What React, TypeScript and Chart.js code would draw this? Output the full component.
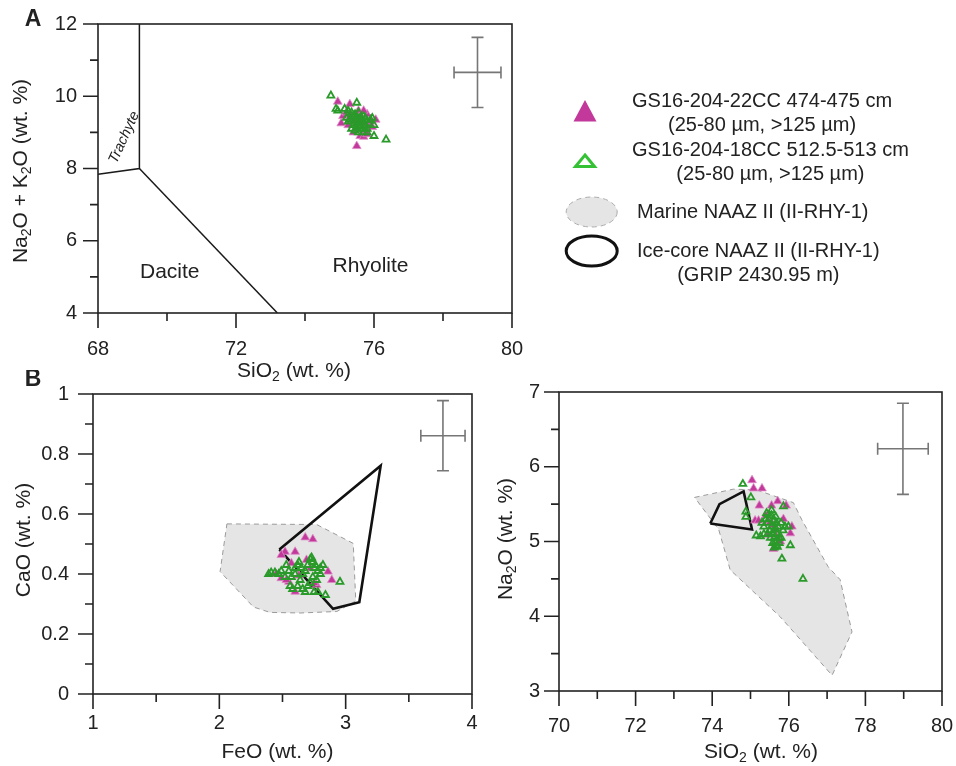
import React, { useEffect, useRef } from 'react';
import { Chart, registerables } from 'chart.js';
Chart.register(...registerables);

const FONT = '"Liberation Sans", Arial, Helvetica, sans-serif';
const INK = '#222222';
const PINK = '#c2399b';
const PINK_EDGE = '#de8ac6';
const GREEN = '#2a9a2a';
const LEG_GREEN = '#35c135';
const MARINE_FILL = '#e5e5e5';
const MARINE_EDGE = '#9a9a9a';

// ---------- Panel A : TAS ----------
const tasUpperSiO2 = [68, 69.2, 69.2];
const tasUpperAlk = [7.84, 8, 12];
const tasDiagSiO2 = [69.2, 73.2];
const tasDiagAlk = [8, 4];

const aPinkSiO2 = [74.95, 75.3, 75.55, 75.1, 75.05, 75.25, 75.35, 75.6, 75.8, 76.05, 75.95, 75.75, 75.6, 75.4, 75.5, 75.7, 75.85, 75.45, 75.65, 75.2, 75.5, 75.9, 75.3, 75.7, 75.8];
const aPinkAlk = [9.85, 9.78, 9.6, 9.45, 9.25, 9.2, 9.4, 9.45, 9.5, 9.35, 9.15, 9.05, 8.9, 9.0, 8.62, 8.88, 9.2, 9.3, 9.25, 9.55, 9.1, 9.3, 9.5, 9.6, 8.95];
const aGreenSiO2 = [74.75, 75.5, 74.9, 74.95, 75.15, 75.25, 75.35, 75.45, 75.55, 75.6, 75.4, 75.3, 75.45, 75.5, 75.55, 75.65, 75.7, 75.75, 75.6, 75.4, 75.35, 75.5, 75.65, 75.8, 75.85, 75.9, 76.0, 75.7, 75.8, 76.0, 76.35, 75.25, 75.5, 75.75, 75.6, 75.45, 75.55, 75.95, 75.2, 75.7];
const aGreenAlk = [10.02, 9.82, 9.65, 9.6, 9.65, 9.6, 9.55, 9.5, 9.55, 9.4, 9.45, 9.35, 9.35, 9.25, 9.3, 9.35, 9.3, 9.2, 9.15, 9.2, 9.1, 9.15, 9.1, 9.1, 9.25, 9.35, 9.2, 9.0, 9.0, 8.9, 8.8, 9.3, 9.4, 9.4, 9.25, 9.05, 9.0, 9.4, 9.4, 9.45];
const aErr = { x: 79, y: 10.66, dx: 0.68, dy: 0.97 };

// ---------- Panel B left : FeO vs CaO ----------
const blMarineFeO = [2.06, 2.77, 3.06, 3.08, 2.93, 2.64, 2.4, 2.27, 2.006];
const blMarineCaO = [0.567, 0.565, 0.502, 0.31, 0.275, 0.27, 0.272, 0.29, 0.408];
const blIceFeO = [2.475, 3.277, 3.108, 2.9];
const blIceCaO = [0.482, 0.761, 0.306, 0.284];
const blPinkFeO = [2.68, 2.74, 2.52, 2.6, 2.49, 2.69, 2.57, 2.86, 2.45, 2.89, 2.49, 2.6, 2.77, 2.55, 2.72, 2.63, 2.75, 2.53];
const blPinkCaO = [0.522, 0.516, 0.474, 0.474, 0.463, 0.447, 0.436, 0.408, 0.4, 0.38, 0.386, 0.341, 0.363, 0.374, 0.419, 0.395, 0.37, 0.38];
const blGreenFeO = [2.39, 2.41, 2.44, 2.49, 2.53, 2.55, 2.57, 2.56, 2.58, 2.6, 2.62, 2.63, 2.65, 2.66, 2.64, 2.62, 2.66, 2.68, 2.7, 2.7, 2.72, 2.73, 2.74, 2.75, 2.76, 2.78, 2.8, 2.82, 2.8, 2.77, 2.74, 2.72, 2.75, 2.78, 2.84, 2.955, 2.68, 2.6, 2.52, 2.47];
const blGreenCaO = [0.4, 0.405, 0.405, 0.41, 0.43, 0.41, 0.39, 0.36, 0.35, 0.42, 0.43, 0.44, 0.42, 0.4, 0.38, 0.36, 0.35, 0.34, 0.36, 0.43, 0.45, 0.455, 0.44, 0.42, 0.43, 0.41, 0.42, 0.43, 0.4, 0.38, 0.39, 0.37, 0.34, 0.34, 0.33, 0.374, 0.41, 0.4, 0.39, 0.4];
const blErr = { x: 3.77, y: 0.861, dx: 0.175, dy: 0.117 };

// ---------- Panel B right : SiO2 vs Na2O ----------
const brMarineSiO2 = [73.54, 74.55, 75.16, 76.12, 76.34, 77.03, 77.34, 77.65, 77.13, 75.78, 74.47, 74.17];
const brMarineNa2O = [5.59, 5.7, 5.69, 5.52, 5.29, 4.66, 4.49, 3.79, 3.21, 3.99, 4.62, 5.16];
const brIceSiO2 = [73.95, 74.19, 74.82, 75.04];
const brIceNa2O = [5.24, 5.5, 5.67, 5.16];
const brPinkSiO2 = [75.04, 75.08, 75.3, 75.23, 75.55, 75.71, 75.93, 75.12, 75.21, 75.86, 76.08, 76.04, 75.44, 75.6, 75.78, 75.5, 75.65, 75.7, 75.4, 75.62];
const brPinkNa2O = [5.82, 5.71, 5.71, 5.48, 5.48, 5.54, 5.48, 5.28, 5.28, 5.3, 5.2, 5.11, 5.09, 4.9, 5.0, 5.25, 5.15, 5.05, 5.35, 5.22];
const brGreenSiO2 = [74.8, 75.01, 74.88, 74.88, 76.37, 75.82, 76.04, 75.86, 75.99, 75.66, 75.15, 75.26, 75.35, 75.4, 75.45, 75.5, 75.55, 75.5, 75.55, 75.6, 75.6, 75.62, 75.65, 75.68, 75.7, 75.72, 75.75, 75.58, 75.62, 75.7, 75.8, 75.85, 75.9, 75.52, 75.45, 75.35, 75.3, 75.48, 75.55, 75.65, 75.75, 75.8, 75.42, 75.58, 75.68];
const brGreenNa2O = [5.77, 5.59, 5.4, 5.33, 4.5, 4.77, 4.95, 5.47, 5.2, 5.33, 5.08, 5.07, 5.2, 5.3, 5.25, 5.35, 5.42, 5.15, 5.2, 5.28, 5.1, 5.05, 5.0, 4.95, 5.1, 5.2, 5.05, 4.98, 4.92, 4.93, 5.05, 5.15, 5.2, 5.05, 5.1, 5.1, 5.25, 5.3, 5.35, 5.18, 4.98, 5.25, 5.38, 5.12, 5.25];
const brErr = { x: 78.98, y: 6.24, dx: 0.66, dy: 0.61 };

// ---------- helpers ----------
type P = { x: number; y: number };
const pts = (xs: number[], ys: number[]): P[] => xs.map((x, i) => ({ x, y: ys[i] }));
const closed = (xs: number[], ys: number[]): P[] => {
  const p = pts(xs, ys);
  return [...p, p[0]];
};

type Part = [string, boolean];
function drawRich(ctx: CanvasRenderingContext2D, parts: Part[], x: number, y: number, size: number, rot = 0) {
  const big = `${size}px ${FONT}`;
  const small = `${Math.round(size * 0.68)}px ${FONT}`;
  let total = 0;
  const widths = parts.map(([t, sub]) => {
    ctx.font = sub ? small : big;
    const w = ctx.measureText(t).width;
    total += w;
    return w;
  });
  ctx.save();
  ctx.translate(x, y);
  ctx.rotate(rot);
  ctx.fillStyle = INK;
  ctx.textBaseline = 'middle';
  ctx.textAlign = 'left';
  let cx = -total / 2;
  parts.forEach(([t, sub], i) => {
    ctx.font = sub ? small : big;
    ctx.fillText(t, cx, sub ? size * 0.3 : 0);
    cx += widths[i];
  });
  ctx.restore();
}

type Title = { parts: Part[]; x: number; y: number; rot?: number };
type Err = { x: number; y: number; dx: number; dy: number };

function decor(cfg: { err: Err; titles: Title[]; extra?: (chart: any) => void }) {
  return {
    id: 'decor',
    afterDatasetsDraw(chart: any) {
      const { ctx, chartArea: a, scales } = chart;
      const sx = scales.x;
      const sy = scales.y;
      ctx.save();
      ctx.strokeStyle = INK;
      ctx.lineWidth = 1.6;
      ctx.strokeRect(a.left, a.top, a.right - a.left, a.bottom - a.top);
      ctx.beginPath();
      for (const t of sx.ticks) {
        const px = sx.getPixelForValue(t.value);
        const L = t.label !== '' ? 15 : 8;
        ctx.moveTo(px, a.bottom);
        ctx.lineTo(px, a.bottom + L);
      }
      for (const t of sy.ticks) {
        const py = sy.getPixelForValue(t.value);
        const L = t.label !== '' ? 15 : 8;
        ctx.moveTo(a.left, py);
        ctx.lineTo(a.left - L, py);
      }
      ctx.stroke();
      // error bar
      const e = cfg.err;
      const cx = sx.getPixelForValue(e.x);
      const cy = sy.getPixelForValue(e.y);
      const x0 = sx.getPixelForValue(e.x - e.dx);
      const x1 = sx.getPixelForValue(e.x + e.dx);
      const y0 = sy.getPixelForValue(e.y + e.dy);
      const y1 = sy.getPixelForValue(e.y - e.dy);
      ctx.strokeStyle = '#767676';
      ctx.lineWidth = 1.6;
      ctx.beginPath();
      ctx.moveTo(x0, cy); ctx.lineTo(x1, cy);
      ctx.moveTo(cx, y0); ctx.lineTo(cx, y1);
      ctx.moveTo(x0, cy - 6); ctx.lineTo(x0, cy + 6);
      ctx.moveTo(x1, cy - 6); ctx.lineTo(x1, cy + 6);
      ctx.moveTo(cx - 6, y0); ctx.lineTo(cx + 6, y0);
      ctx.moveTo(cx - 6, y1); ctx.lineTo(cx + 6, y1);
      ctx.stroke();
      ctx.restore();
    },
    afterDraw(chart: any) {
      const { ctx } = chart;
      for (const t of cfg.titles) drawRich(ctx, t.parts, t.x, t.y, 21, t.rot || 0);
      if (cfg.extra) cfg.extra(chart);
    },
  };
}

function axisOpts(min: number, max: number, step: number, pad: number, size: { w?: number; h?: number }, labelFn: (v: number) => string) {
  return {
    type: 'linear',
    min,
    max,
    afterFit: (s: any) => {
      if (size.w !== undefined) s.width = size.w;
      if (size.h !== undefined) s.height = size.h;
      s.paddingTop = 0;
      s.paddingBottom = 0;
      s.paddingLeft = 0;
      s.paddingRight = 0;
    },
    grid: { display: false, drawTicks: false, tickLength: 0 },
    border: { display: false },
    ticks: {
      stepSize: step,
      autoSkip: false,
      maxRotation: 0,
      minRotation: 0,
      maxTicksLimit: 100,
      padding: pad,
      color: INK,
      font: { family: FONT, size: 20 },
      callback: (v: number) => labelFn(v),
    },
  };
}

function pinkSet(data: P[]) {
  return { data, pointStyle: 'triangle', pointRadius: 5, backgroundColor: PINK, borderColor: PINK_EDGE, borderWidth: 0.8, order: 2 };
}
function greenSet(data: P[]) {
  return { data, pointStyle: 'triangle', pointRadius: 4, backgroundColor: 'rgba(255,255,255,0)', borderColor: GREEN, borderWidth: 1.8, order: 1 };
}
function marineSet(data: P[]) {
  return { data, showLine: true, fill: 'shape', backgroundColor: MARINE_FILL, borderColor: MARINE_EDGE, borderWidth: 1, borderDash: [5, 4], pointRadius: 0, tension: 0, order: 4 };
}
function iceSet(data: P[]) {
  return { data, showLine: true, fill: false, borderColor: '#111', borderWidth: 2.6, pointRadius: 0, tension: 0, order: 3 };
}
function lineSet(data: P[]) {
  return { data, showLine: true, fill: false, borderColor: '#1a1a1a', borderWidth: 1.5, pointRadius: 0, tension: 0, order: 5 };
}

const baseOpts = (padding: any) => ({
  responsive: false,
  maintainAspectRatio: false,
  devicePixelRatio: 1,
  animation: false,
  events: [],
  layout: { padding, autoPadding: false },
  plugins: { legend: { display: false }, tooltip: { enabled: false } },
});

function buildA() {
  const extra = (chart: any) => {
    const { ctx, scales } = chart;
    const sx = scales.x, sy = scales.y;
    ctx.save();
    ctx.fillStyle = INK;
    // panel label
    ctx.font = `bold 23px ${FONT}`;
    ctx.textAlign = 'center';
    ctx.textBaseline = 'middle';
    ctx.fillText('A', 33, 20);
    // field names
    ctx.font = `21px ${FONT}`;
    ctx.fillText('Dacite', sx.getPixelForValue(70.08), sy.getPixelForValue(5.13));
    ctx.fillText('Rhyolite', sx.getPixelForValue(75.9), sy.getPixelForValue(5.29));
    ctx.save();
    ctx.translate(sx.getPixelForValue(68.76), sy.getPixelForValue(8.86));
    ctx.rotate(-65.7 * Math.PI / 180);
    ctx.font = `italic 14.5px ${FONT}`;
    ctx.fillText('Trachyte', 0, 0);
    ctx.restore();
    // legend
    ctx.fillStyle = PINK;
    ctx.beginPath();
    ctx.moveTo(585, 100); ctx.lineTo(596.5, 121.5); ctx.lineTo(573.5, 121.5); ctx.closePath();
    ctx.fill();
    ctx.strokeStyle = LEG_GREEN;
    ctx.lineWidth = 3;
    ctx.lineJoin = 'miter';
    ctx.beginPath();
    ctx.moveTo(585, 155); ctx.lineTo(594.5, 166.5); ctx.lineTo(575.5, 166.5); ctx.closePath();
    ctx.stroke();
    ctx.beginPath();
    ctx.ellipse(591.7, 212, 25.5, 15, 0, 0, Math.PI * 2);
    ctx.fillStyle = MARINE_FILL;
    ctx.fill();
    ctx.setLineDash([5, 4]);
    ctx.strokeStyle = '#aaaaaa';
    ctx.lineWidth = 1;
    ctx.stroke();
    ctx.setLineDash([]);
    ctx.beginPath();
    ctx.ellipse(591.7, 251, 25.5, 15, 0, 0, Math.PI * 2);
    ctx.strokeStyle = '#111';
    ctx.lineWidth = 3;
    ctx.stroke();

    ctx.fillStyle = INK;
    ctx.font = `20px ${FONT}`;
    ctx.textBaseline = 'middle';
    const line = (t: string, x: number, y: number) => { ctx.textAlign = 'left'; ctx.fillText(t, x, y); return ctx.measureText(t).width; };
    const under = (t: string, left: number, w: number, y: number) => { ctx.textAlign = 'center'; ctx.fillText(t, left + w / 2, y); };
    const w1 = line('GS16-204-22CC 474-475 cm', 632, 101);
    under('(25-80 µm, >125 µm)', 632, w1, 125);
    const w3 = line('GS16-204-18CC 512.5-513 cm', 632, 150);
    under('(25-80 µm, >125 µm)', 632, w3, 174);
    line('Marine NAAZ II (II-RHY-1)', 637, 212);
    const w6 = line('Ice-core NAAZ II (II-RHY-1)', 637, 251);
    under('(GRIP 2430.95 m)', 637, w6, 275);
    ctx.restore();
  };
  return {
    type: 'scatter',
    data: {
      datasets: [
        greenSet(pts(aGreenSiO2, aGreenAlk)),
        pinkSet(pts(aPinkSiO2, aPinkAlk)),
        lineSet(pts(tasUpperSiO2, tasUpperAlk)),
        lineSet(pts(tasDiagSiO2, tasDiagAlk)),
      ],
    },
    options: {
      ...baseOpts({ top: 24, right: 444, left: 0, bottom: 0 }),
      scales: {
        x: axisOpts(68, 80, 2, 24, { h: 72 }, (v) => ((v - 68) % 4 === 0 ? String(v) : '')),
        y: axisOpts(4, 12, 1, 21, { w: 98 }, (v) => (v % 2 === 0 ? String(v) : '')),
      },
    },
    plugins: [
      decor({
        err: aErr,
        titles: [
          { parts: [['SiO', false], ['2', true], [' (wt. %)', false]], x: 294, y: 371 },
          { parts: [['Na', false], ['2', true], ['O + K', false], ['2', true], ['O (wt. %)', false]], x: 21, y: 171, rot: -Math.PI / 2 },
        ],
        extra,
      }),
    ],
  };
}

function buildBL() {
  const extra = (chart: any) => {
    const { ctx } = chart;
    ctx.save();
    ctx.fillStyle = INK;
    ctx.font = `bold 23px ${FONT}`;
    ctx.textAlign = 'center';
    ctx.textBaseline = 'middle';
    ctx.fillText('B', 33, 10);
    ctx.restore();
  };
  return {
    type: 'scatter',
    data: {
      datasets: [
        greenSet(pts(blGreenFeO, blGreenCaO)),
        pinkSet(pts(blPinkFeO, blPinkCaO)),
        iceSet(closed(blIceFeO, blIceCaO)),
        marineSet(closed(blMarineFeO, blMarineCaO)),
      ],
    },
    options: {
      ...baseOpts({ top: 24, right: 8, left: 0, bottom: 0 }),
      scales: {
        x: axisOpts(1, 4, 0.5, 17, { h: 72 }, (v) => (Number.isInteger(v) ? String(v) : '')),
        y: axisOpts(0, 1, 0.1, 24, { w: 93 }, (v) => (Math.round(v * 10) % 2 === 0 ? String(Math.round(v * 10) / 10) : '')),
      },
    },
    plugins: [
      decor({
        err: blErr,
        titles: [
          { parts: [['FeO (wt. %)', false]], x: 277.5, y: 382 },
          { parts: [['CaO (wt. %)', false]], x: 24, y: 170, rot: -Math.PI / 2 },
        ],
        extra,
      }),
    ],
  };
}

function buildBR() {
  return {
    type: 'scatter',
    data: {
      datasets: [
        greenSet(pts(brGreenSiO2, brGreenNa2O)),
        pinkSet(pts(brPinkSiO2, brPinkNa2O)),
        iceSet(closed(brIceSiO2, brIceNa2O)),
        marineSet(closed(brMarineSiO2, brMarineNa2O)),
      ],
    },
    options: {
      ...baseOpts({ top: 22, right: 14, left: 0, bottom: 0 }),
      scales: {
        x: axisOpts(70, 80, 1, 23, { h: 75 }, (v) => (v % 2 === 0 ? String(v) : '')),
        y: axisOpts(3, 7, 0.5, 19, { w: 79 }, (v) => (Number.isInteger(v) ? String(v) : '')),
      },
    },
    plugins: [
      decor({
        err: brErr,
        titles: [
          { parts: [['SiO', false], ['2', true], [' (wt. %)', false]], x: 281, y: 382 },
          { parts: [['Na', false], ['2', true], ['O (wt. %)', false]], x: 26, y: 169, rot: -Math.PI / 2 },
        ],
      }),
    ],
  };
}

function ChartBox({ build, left, top, width, height }: { build: () => any; left: number; top: number; width: number; height: number }) {
  const ref = useRef<HTMLCanvasElement>(null);
  useEffect(() => {
    const chart = new Chart(ref.current as HTMLCanvasElement, build());
    return () => chart.destroy();
  }, []);
  return (
    <canvas
      ref={ref}
      width={width}
      height={height}
      style={{ position: 'absolute', left, top, width, height, display: 'block' }}
    />
  );
}

export default function App() {
  return (
    <div style={{ position: 'fixed', left: 0, top: 0, width: 956, height: 766, background: '#fff', overflow: 'hidden' }}>
      <ChartBox build={buildA} left={0} top={0} width={956} height={385} />
      <ChartBox build={buildBL} left={0} top={370} width={480} height={396} />
      <ChartBox build={buildBR} left={480} top={370} width={476} height={396} />
    </div>
  );
}
